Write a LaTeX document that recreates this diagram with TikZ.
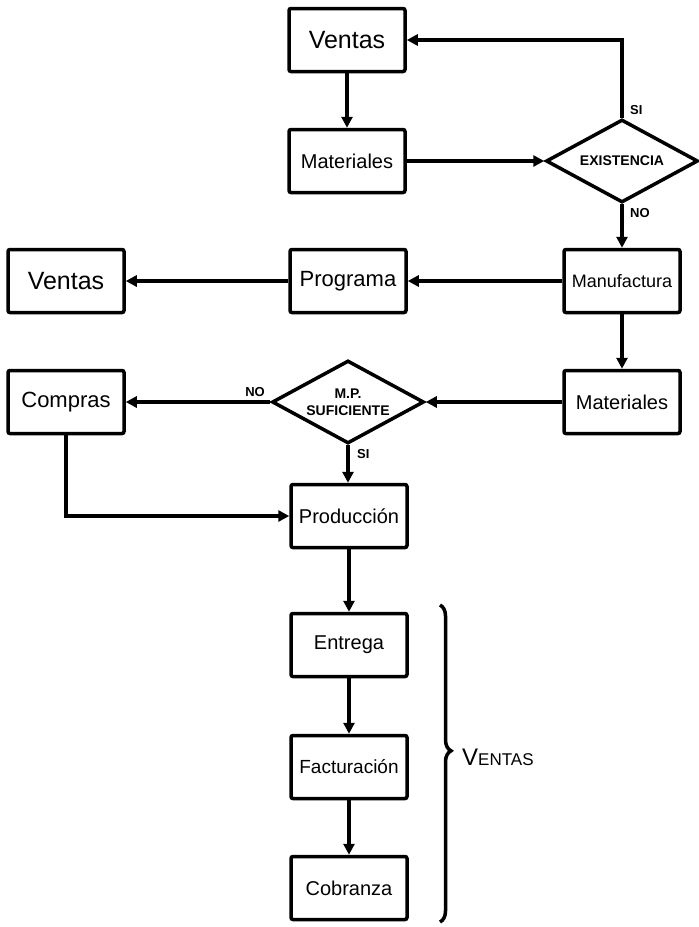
\documentclass[tikz,border=0pt]{standalone}
\usepackage{fontspec}
\setmainfont{Liberation Sans}
\usetikzlibrary{arrows.meta,shapes.geometric,decorations.pathreplacing}
\begin{document}
\begin{tikzpicture}[x=1pt,y=-1pt,
  box/.style={draw,line width=3.5pt,rounded corners=2pt,minimum width=116pt,minimum height=63pt,inner sep=1pt,font=\fontsize{20}{22}\selectfont},
  dec/.style={draw,line width=3.5pt,shape=diamond,aspect=1.83,minimum width=152pt,minimum height=83pt,inner sep=0pt,align=center,font=\bfseries\fontsize{14}{17}\selectfont},
  conn/.style={line width=3.5pt,-{Triangle[length=11pt,width=11pt]}},
  lbl/.style={font=\bfseries\fontsize{13}{15}\selectfont,inner sep=1pt}]
\useasboundingbox (0,0) rectangle (699,927);
% nodes
\node[box,font=\fontsize{25}{27}\selectfont] (ventasA) at (347,40) {Ventas};
\node[box] (matA) at (347,161) {Materiales};
\node[dec] (exist) at (622,161) {EXISTENCIA};
\node[box,font=\fontsize{25}{27}\selectfont] (ventasB) at (66,281) {Ventas};
\node[box,font=\fontsize{22}{24}\selectfont] (prog) at (348,281) {Programa};
\node[box,font=\fontsize{18}{20}\selectfont] (manuf) at (622,281) {Manufactura};
\node[box] (matB) at (622,402) {Materiales};
\node[box,font=\fontsize{22}{24}\selectfont] (compras) at (66,402) {Compras};
\node[dec] (mp) at (348,402) {M.P.\\SUFICIENTE};
\node[box] (prod) at (349,516) {Producción};
\node[box] (entrega) at (349,645) {Entrega};
\node[box,font=\fontsize{19}{21}\selectfont] (fact) at (349,767) {Facturación};
\node[box] (cobr) at (349,888) {Cobranza};
% labels
\node[lbl,anchor=west] (siA) at (629,110) {SI};
\node[lbl,anchor=west] (noA) at (629,213) {NO};
\node[lbl] (noB) at (255,392) {NO};
\node[lbl,anchor=west] (siB) at (356,454) {SI};
% connectors
\draw[conn] (ventasA) -- (matA);
\draw[conn] (matA) -- (exist);
\draw[conn] (exist.north) |- (ventasA.east);
\draw[conn] (exist) -- (manuf);
\draw[conn] (manuf) -- (prog);
\draw[conn] (prog) -- (ventasB);
\draw[conn] (manuf) -- (matB);
\draw[conn] (matB) -- (mp);
\draw[conn] (mp) -- (compras);
\draw[conn] (mp.south) -- (mp.south |- prod.north);
\draw[conn] (compras.south) |- (prod.west);
\draw[conn] (prod) -- (entrega);
\draw[conn] (entrega) -- (fact);
\draw[conn] (fact) -- (cobr);
% brace
\coordinate (braceTop) at (440,605);
\coordinate (braceBot) at (440,922);
\draw[line width=3.5pt,decorate,decoration={brace,amplitude=11pt,aspect=0.46}] (braceTop) -- (braceBot);
\node[anchor=west,inner sep=0pt,font=\fontsize{17}{19}\selectfont] (ventasC) at (462,757) {{\fontsize{24}{26}\selectfont V}ENTAS};
\end{tikzpicture}
\end{document}
